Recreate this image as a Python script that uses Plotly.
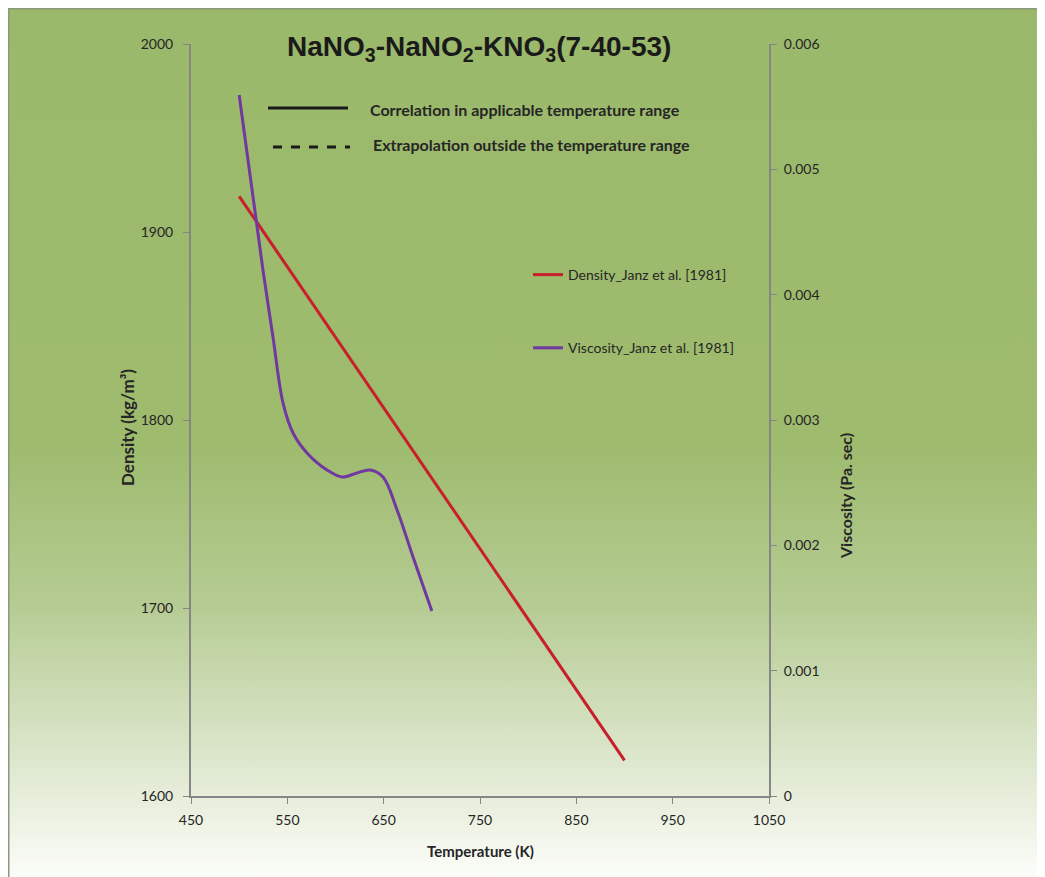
import base64
import plotly.graph_objects as go

# ---------------- data ----------------
density_T = [500, 550, 600, 650, 700, 750, 800, 850, 900]
density_vals = [1919, 1881.5, 1844, 1806.5, 1769, 1731.5, 1694, 1656.5, 1619]

visc_T = [500, 524.7, 535.1, 545.5, 555.9, 570.4, 591.2, 606.8, 622.3, 635.8, 649.3, 663.9, 680.5, 700]
visc_vals = [0.005593, 0.004197, 0.003662, 0.003136, 0.002896, 0.002737, 0.002601,
             0.002545, 0.002577, 0.002601, 0.002545, 0.002282, 0.001907, 0.001476]

x_ticks = [450, 550, 650, 750, 850, 950, 1050]
y_ticks = [1600, 1700, 1800, 1900, 2000]
y2_ticks = [0, 0.001, 0.002, 0.003, 0.004, 0.005, 0.006]
y2_labels = ["0", "0.001", "0.002", "0.003", "0.004", "0.005", "0.006"]

# ---------------- geometry (window pixels; page body has an 8px margin) ----------------
OFF = 8
WIN_W, WIN_H = 1045, 877
W, H = WIN_W - OFF, WIN_H - OFF
L, R, T, B = 191, 769, 44, 796  # plot area in window pixels


def px(p):
    return (p - L) / (R - L)


def py(p):
    return (B - p) / (B - T)


FONT = "Lato, Carlito, Calibri, sans-serif"
TXT = "#262626"
AX = "#868686"

fig = go.Figure()
fig.add_trace(go.Scatter(x=density_T, y=density_vals, mode="lines",
                         name="Density_Janz et al. [1981]", legendgroup="d",
                         line=dict(color="#c8202a", width=3)))
fig.add_trace(go.Scatter(x=visc_T, y=visc_vals, mode="lines", yaxis="y2",
                         name="Viscosity_Janz et al. [1981]", legendgroup="v",
                         line=dict(color="#7038a0", width=3, shape="spline", smoothing=1.0)))

# gradient background as an svg image
svg = ('<svg xmlns="http://www.w3.org/2000/svg" width="100" height="100" preserveAspectRatio="none">'
       '<defs><linearGradient id="g" x1="0" y1="0" x2="0" y2="1">'
       '<stop offset="0" stop-color="#9bb96b"/>'
       '<stop offset="0.5" stop-color="#9ebb6e"/>'
       '<stop offset="0.68" stop-color="#b5cb92"/>'
       '<stop offset="0.86" stop-color="#dde7cd"/>'
       '<stop offset="1" stop-color="#fdfefb"/>'
       '</linearGradient></defs><rect width="100" height="100" fill="url(#g)"/></svg>')
src = "data:image/svg+xml;base64," + base64.b64encode(svg.encode()).decode()

shapes = [
    dict(type="rect", xref="paper", yref="paper", x0=px(OFF + 0.5), x1=px(WIN_W + 5), y0=py(OFF + 0.5),
         y1=py(WIN_H + 5), line=dict(color="#8b9a7e", width=2), fillcolor="rgba(0,0,0,0)", layer="below"),
    dict(type="line", xref="paper", yref="paper", x0=px(268), x1=px(348), y0=py(108), y1=py(108),
         line=dict(color="#1a1a1a", width=3)),
    dict(type="line", xref="paper", yref="paper", x0=px(273), x1=px(350), y0=py(147), y1=py(147),
         line=dict(color="#1a1a1a", width=3, dash="dash")),
]

annotations = [
    dict(text="<b>NaNO<sub>3</sub>-NaNO<sub>2</sub>-KNO<sub>3</sub>(7-40-53)</b>", xref="paper", yref="paper",
         x=px(479), y=py(48), showarrow=False, xanchor="center", yanchor="middle",
         font=dict(family="Liberation Sans Narrow, Arial Narrow, sans-serif", size=28, color="#1a1a1a")),
    dict(text="<b>Correlation in applicable temperature range</b>", xref="paper", yref="paper",
         x=px(368), y=py(109), showarrow=False, xanchor="left", yanchor="middle",
         font=dict(family=FONT, size=16, color=TXT)),
    dict(text="<b>Extrapolation outside the temperature range</b>", xref="paper", yref="paper",
         x=px(371), y=py(144), showarrow=False, xanchor="left", yanchor="middle",
         font=dict(family=FONT, size=16, color=TXT)),
    dict(text="<b>Density (kg/m\u00b3)</b>", xref="paper", yref="paper", x=px(127), y=py(428),
         showarrow=False, textangle=-90, xanchor="center", yanchor="middle",
         font=dict(family=FONT, size=17, color=TXT)),
    dict(text="<b>Viscosity (Pa. sec)</b>", xref="paper", yref="paper", x=px(845), y=py(496),
         showarrow=False, textangle=-90, xanchor="center", yanchor="middle",
         font=dict(family=FONT, size=16, color=TXT)),
    dict(text="<b>Temperature (K)</b>", xref="paper", yref="paper", x=px(480), y=py(851),
         showarrow=False, xanchor="center", yanchor="middle",
         font=dict(family=FONT, size=15, color=TXT)),
]

fig.update_layout(
    width=W, height=H,
    margin=dict(l=L - OFF, r=W - (R - OFF), t=T - OFF, b=H - (B - OFF), pad=0),
    paper_bgcolor="white", plot_bgcolor="rgba(0,0,0,0)",
    font=dict(family=FONT, size=14, color=TXT),
    images=[dict(source=src, xref="paper", yref="paper", x=px(OFF + 1), y=py(OFF + 1),
                 sizex=px(WIN_W + 5) - px(OFF + 1), sizey=py(OFF + 1) - py(WIN_H + 5), sizing="stretch",
                 xanchor="left", yanchor="top", layer="below")],
    shapes=shapes, annotations=annotations,
    xaxis=dict(range=[450, 1050], tickvals=x_ticks, showgrid=False, zeroline=False,
               showline=True, linecolor=AX, linewidth=2, ticks="outside", ticklen=6,
               tickcolor=AX, tickwidth=1, tickfont=dict(size=14, color=TXT), ticklabelstandoff=4),
    yaxis=dict(range=[1600, 2000], tickvals=y_ticks, showgrid=False, zeroline=False,
               showline=True, linecolor=AX, linewidth=2, ticks="outside", ticklen=6,
               tickcolor=AX, tickwidth=1, tickfont=dict(size=14, color=TXT), ticklabelstandoff=7),
    yaxis2=dict(range=[0, 0.006], tickvals=y2_ticks, ticktext=y2_labels, overlaying="y",
                side="right", showgrid=False, zeroline=False, showline=True, linecolor=AX,
                linewidth=2, ticks="outside", ticklen=6, tickcolor=AX, tickwidth=1,
                tickfont=dict(size=14, color=TXT), ticklabelstandoff=4),
    legend=dict(x=px(528), y=py(259), xanchor="left", yanchor="top", bgcolor="rgba(0,0,0,0)",
                font=dict(family=FONT, size=14, color=TXT), tracegroupgap=52, itemwidth=30),
    showlegend=True,
)

fig.write_html("out.html")
